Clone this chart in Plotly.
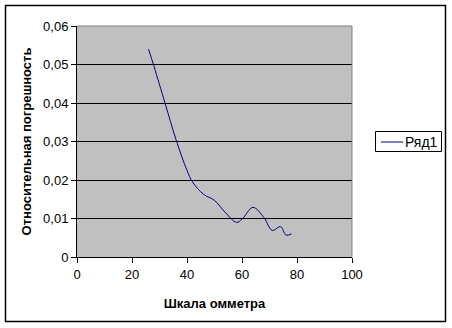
import plotly.graph_objects as go

# Data
scale_x = [26, 28, 32, 36, 40, 42, 46, 50, 54, 58, 60, 64, 68, 71, 74, 76, 78]
rel_err = [0.054, 0.0495, 0.040, 0.0305, 0.0225, 0.0195, 0.0163, 0.0147, 0.0115, 0.009,
           0.0098, 0.0129, 0.0102, 0.0069, 0.0079, 0.0057, 0.006]
series_name = "Ряд1"
x_ticks = [0, 20, 40, 60, 80, 100]
y_ticks = [0, 0.01, 0.02, 0.03, 0.04, 0.05, 0.06]
y_tick_text = ["0", "0,01", "0,02", "0,03", "0,04", "0,05", "0,06"]
x_title = "Шкала омметра"
y_title = "Относительная погрешность"

FONT = "Liberation Sans, Arial, sans-serif"
LINE_COLOR = "#000080"
W, H = 452, 328
L, R, T, B = 77, 100, 26, 71
pw = W - L - R
ph = H - T - B


def px_x(v):
    return (v - L) / pw


def px_y(v):
    return (H - B - v) / ph


fig = go.Figure()
fig.add_trace(go.Scatter(
    x=scale_x, y=rel_err, mode="lines", name=series_name, showlegend=False,
    line=dict(color=LINE_COLOR, width=1, shape="spline", smoothing=1.0),
))

fig.update_layout(
    width=W, height=H,
    margin=dict(l=L, r=R, t=T, b=B, pad=0, autoexpand=False),
    paper_bgcolor="white",
    plot_bgcolor="#C0C0C0",
    font=dict(family=FONT, size=13, color="black"),
    showlegend=False,
    xaxis=dict(
        range=[0, 100], tickvals=x_ticks, ticktext=[str(v) for v in x_ticks],
        showgrid=False, zeroline=False,
        showline=True, linecolor="black", linewidth=1,
        ticks="outside", ticklen=5, tickcolor="black", tickwidth=1,
        tickfont=dict(family=FONT, size=13),
        title=dict(text="<b>" + x_title + "</b>", font=dict(family=FONT, size=13), standoff=18),
        mirror=False,
    ),
    yaxis=dict(
        range=[0, 0.06], tickvals=y_ticks, ticktext=y_tick_text,
        showgrid=True, gridcolor="black", gridwidth=1, zeroline=False,
        showline=True, linecolor="black", linewidth=1,
        ticks="outside", ticklen=5, tickcolor="black", tickwidth=1,
        tickfont=dict(family=FONT, size=13),
        title=dict(text="<b>" + y_title + "</b>", font=dict(family=FONT, size=13), standoff=8),
    ),
)

# plot area border (top/right gray)
fig.add_shape(type="line", xref="paper", yref="paper", x0=0, x1=1, y0=1, y1=1,
              line=dict(color="#808080", width=1))
fig.add_shape(type="line", xref="paper", yref="paper", x0=1, x1=1, y0=0, y1=1,
              line=dict(color="#808080", width=1))
# outer chart border
fig.add_shape(type="rect", xref="paper", yref="paper",
              x0=px_x(5.5), x1=px_x(445.5), y0=px_y(321.5), y1=px_y(5.5),
              line=dict(color="black", width=1.5), fillcolor="rgba(0,0,0,0)")

# legend box
fig.add_shape(type="rect", xref="paper", yref="paper",
              x0=px_x(375.5), x1=px_x(441.5), y0=px_y(151.5), y1=px_y(131.5),
              line=dict(color="black", width=1), fillcolor="white")
fig.add_shape(type="line", xref="paper", yref="paper",
              x0=px_x(381), x1=px_x(403), y0=px_y(142), y1=px_y(142),
              line=dict(color=LINE_COLOR, width=1))
fig.add_annotation(xref="paper", yref="paper", x=px_x(403), y=px_y(142),
                   xanchor="left", yanchor="middle", showarrow=False,
                   text=series_name, font=dict(family=FONT, size=14, color="black"))

fig.write_html("out.html")
